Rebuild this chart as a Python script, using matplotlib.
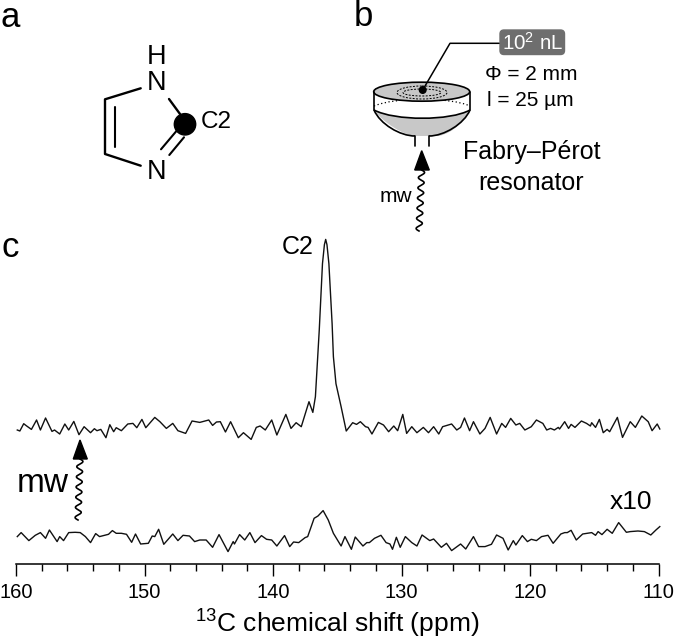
import numpy as np
import matplotlib
matplotlib.use("Agg")
import matplotlib.pyplot as plt
from matplotlib.patches import Circle, Ellipse, FancyBboxPatch, Polygon, PathPatch
from matplotlib.path import Path

plt.rcParams['font.family'] = ['Liberation Sans', 'DejaVu Sans']
plt.rcParams['mathtext.fontset'] = 'custom'
plt.rcParams['mathtext.rm'] = 'Liberation Sans'
plt.rcParams['mathtext.default'] = 'regular'

# upper trace (microwave on)
top_ppm = [159.9, 159.7, 159.4, 159.2, 158.8, 158.4, 158.1, 157.7, 157.2, 157.0, 156.6, 156.2, 155.9, 155.5, 155.1,
           154.7, 154.2, 153.9, 153.7, 153.4, 153.0, 152.7, 152.4, 152.2, 151.8, 151.3, 150.9, 150.6, 150.2, 149.9,
           149.2, 148.8, 148.3, 147.8, 147.4, 146.8, 146.3, 145.7, 145.0, 144.7, 144.4, 144.1, 143.7, 143.3, 142.7,
           142.3, 141.7, 141.3, 141.0, 140.6, 140.1, 139.7, 139.0, 138.6, 138.2, 137.8, 137.2, 136.9, 136.7, 136.4,
           136.15, 136.0, 135.9, 135.8, 135.65, 135.4, 135.3, 135.1, 134.7, 134.3, 133.8, 133.5, 133.2, 132.8, 132.6,
           132.3, 131.8,
           131.4, 131.0, 130.6, 130.3, 129.9, 129.6, 129.2, 128.8, 128.3, 127.9, 127.5, 127.1, 126.8, 126.1, 125.7,
           125.4, 125.1, 124.7, 124.4, 123.9, 123.5, 123.1, 122.6, 122.2, 121.9, 121.5, 121.1, 120.8, 120.4, 119.9,
           119.5, 119.0, 118.7, 118.4, 118.1, 117.8, 117.7, 117.3, 117.0, 116.8, 116.5, 116.0, 115.6, 115.3, 115.2,
           114.9, 114.6, 114.3, 114.0, 113.8, 113.2, 112.8, 112.2, 111.8, 111.3, 110.8, 110.5, 110.1, 109.9]
top_int = [-3.3, -4.3, 3, 1, -2.7, 6.7, -3.3, 8.7, -4.7, -3.3, -7.3, 2.7, -3.3, 5.3, -8,
           0, -6, -2, -4, -2.7, -11, 2, -5, -1, -4, 2.7, 3.3, -1, 7.3, -1,
           9.3, 5, -1.7, 3.3, -4, -6.7, 5.7, 4.3, 6.7, 1.3, 4.7, 5, -5.3, 5, -11,
           -6, -12.7, -0.7, 0.7, -3.3, 6.7, -8.3, 12.3, -1.7, 4, 0, 25, 14.3, 30, 96.7,
           163, 182, 187.3, 182, 163, 103, 70, 43, 20, -4.3, 4, 2.3, 5, 0, -0.7,
           -7.3, 4.3,
           1.7, -5, 0.7, -4, 12.3, -6.7, 0, -6, -0.7, -6, 0, -7.3, 0, 2.7, -3.3,
           -0.7, 8.7, -4, 5, -7.3, -1.7, 9.3, -7.3, 3.3, -0.7, 8.3, 1.7, 3.3, -3.3, 0,
           6.7, 3.3, -3.3, -1.7, -3.3, -0.7, -2.3, 5, -1.7, 2.3, -0.7, 5.7, 3.3, 0.7, 4,
           -0.7, 7.3, -6, -2.7, -5, 9.3, -10.7, 5, -0.7, 10.7, 5, -4, 2.7, -2.3]

# lower trace (microwave off, x10)
low_ppm = [159.9, 159.6, 159.0, 158.5, 158.1, 157.7, 157.4, 156.8, 156.6, 156.3, 155.9, 155.4, 155.0, 154.6, 154.2,
           153.8, 153.5, 152.8, 152.5, 152.2, 151.8, 151.4, 151.0, 150.7, 150.3, 149.7, 149.4, 149.2, 148.9, 148.5,
           147.8, 147.4, 147.0, 146.5, 146.1, 145.7, 145.2, 144.7, 144.2, 143.5, 143.1, 143.0, 142.6, 142.2, 141.8,
           141.4, 140.9, 140.5, 140.1, 139.7, 139.1, 138.7, 138.4, 138.0, 137.5, 137.3, 136.8, 136.5, 136.1, 135.7,
           135.3, 134.7, 134.4, 133.9, 133.6, 133.0, 132.7, 132.5, 132.1, 131.6, 131.2, 130.9, 130.7, 130.4, 130.1,
           129.7, 129.2, 128.8, 128.4, 127.8, 127.5, 126.9, 126.5, 126.1, 125.4, 125.0, 124.4, 124.0, 123.5, 123.0,
           122.6, 122.1, 121.7, 121.3, 121.1, 120.6, 120.2, 119.9, 119.5, 119.1, 118.6, 118.2, 117.6, 117.3, 117.1,
           116.8, 116.4, 115.9, 115.2, 114.9, 114.7, 114.4, 114.0, 113.6, 113.1, 112.5, 112.2, 111.6, 111.1, 110.6,
           110.2, 109.9]
low_int = [1.7, 5.7, -2.3, 3, 5.7, 0, 8.3, -3.3, 1.7, -2.3, 5.7, 6, 5.7, 1.7, -4.3,
           4.7, 1.7, 4, 7.7, 5, 5, 4, -4, 4.3, -5.7, -5, 2.3, 1.7, 9, -6,
           4.3, -2.3, 3, 2.3, -3.3, -1.7, -1.7, -9, 3.7, -13.3, -3.3, -5.7, 3.7, -1.7, 5.7,
           -4.3, 2.7, -1, -1.7, -7.7, 2.7, -8.3, -3.7, -4.3, 0.7, 1.7, 20, 22.3, 27.7, 18.3,
           5, -7.7, 1.7, -11, 1.3, -7.7, -4.3, -4.3, 0, 3, -4.3, -5.7, -11, 1, -9,
           1.7, -4.3, -7.7, 3.3, -2.3, -0.7, -9, -5, -12.3, -5.7, -10.7, 1.7, -8.3, -8.3, -6,
           3.3, 0, -11.7, -2.3, -6.7, 2.7, -3.3, -1, -2.3, 1.7, 3, -5, 4.3, 5.7, 5.7,
           8, -1.7, 4.3, 5.7, 3, 6.7, 3.7, 9, 5, 15.7, 6, 6.7, 7.3, 6.7, 3.3,
           8.3, 11.7]

major_ticks = [160, 150, 140, 130, 120, 110]
minor_ticks = [158, 156, 154, 152, 148, 146, 144, 142, 138, 136, 134, 132, 128, 126, 124, 122, 118, 116, 114, 112]

top_offset = 137.3
low_offset = 25.7

fig = plt.figure(figsize=(6.75, 6.39), dpi=100)

# spectra
ax = fig.add_axes([16 / 675, 75 / 639, 642.5 / 675, 564 / 639])
ax.patch.set_alpha(0)
ax.plot(top_ppm, np.array(top_int) + top_offset, color='#111111', lw=1.0, clip_on=False, solid_joinstyle='round')
ax.plot(low_ppm, np.array(low_int) + low_offset, color='#111111', lw=1.0, clip_on=False, solid_joinstyle='round')
ax.set_xlim(160, 110)
ax.set_ylim(0, 564)
ax.set_yticks([])
for s in ['top', 'left', 'right']:
    ax.spines[s].set_visible(False)
ax.spines['bottom'].set_linewidth(1.1)
ax.set_xticks(major_ticks)
ax.set_xticks(minor_ticks, minor=True)
ax.tick_params(axis='x', which='major', length=8.6, width=1.0, labelsize=14.5, pad=5)
ax.tick_params(axis='x', which='minor', length=5, width=1.0)
ax.set_xlabel('$^{13}$C chemical shift (ppm)', fontsize=19, labelpad=4)

# drawing layer, in pixels of the figure
dr = fig.add_axes([0, 0, 1, 1])
dr.set_xlim(0, 675)
dr.set_ylim(639, 0)
dr.axis('off')


def line(xs, ys, lw=1.3, **kw):
    dr.plot(xs, ys, color='black', lw=lw, solid_capstyle='round', **kw)


def squiggle(x0, y0, x1, y1, waves=6, amp=3.0):
    t = np.linspace(0, 1, 200)
    xs = x0 + (x1 - x0) * t + amp * np.sin(2 * np.pi * waves * t)
    ys = y0 + (y1 - y0) * t
    dr.plot(xs, ys, color='black', lw=1.2)


# panel letters
dr.text(10, 27, 'a', fontsize=25, ha='center', va='baseline')
dr.text(363, 26.5, 'b', fontsize=25, ha='center', va='baseline')
dr.text(10, 257, 'c', fontsize=25, ha='center', va='baseline')

# imidazole
line([140.7, 105, 105, 140.7], [88.3, 99.3, 154, 165.7], lw=1.7)
line([115, 115], [107.3, 146.7], lw=1.5)
line([169, 180], [99, 114], lw=1.7)
line([161, 176.7], [149.3, 130.7], lw=1.5)
line([169.3, 184], [155, 137.3], lw=1.5)
dr.add_patch(Circle((185, 124.3), 10.7, color='black', zorder=3))
dr.text(157, 57, 'H', fontsize=19.5, ha='center', va='center')
dr.text(157, 83, 'N', fontsize=19.5, ha='center', va='center')
dr.text(157, 172, 'N', fontsize=19.5, ha='center', va='center')
dr.text(216, 122, 'C2', fontsize=17.5, ha='center', va='center')

# resonator
bowl = Path([(374, 110), (382, 122), (405, 136), (415, 136), (429, 136), (429, 136), (439, 136),
             (455, 132), (462, 122), (470, 110), (450, 121), (395, 121), (374, 110)],
            [Path.MOVETO, Path.CURVE4, Path.CURVE4, Path.CURVE4, Path.LINETO, Path.LINETO, Path.LINETO,
             Path.CURVE4, Path.CURVE4, Path.CURVE4, Path.CURVE4, Path.CURVE4, Path.CURVE4])
dr.add_patch(PathPatch(bowl, facecolor='#c8c8c8', edgecolor='none'))
line([374, 374], [92, 110], lw=1.2)
line([470, 470], [92, 110], lw=1.2)
arc = Path([(374, 110), (395, 121), (450, 121), (470, 110)],
           [Path.MOVETO, Path.CURVE4, Path.CURVE4, Path.CURVE4])
dr.add_patch(PathPatch(arc, facecolor='none', edgecolor='black', lw=1.2))
back = Path([(374, 106), (395, 97), (450, 97), (470, 106)],
            [Path.MOVETO, Path.CURVE4, Path.CURVE4, Path.CURVE4])
dr.add_patch(PathPatch(back, facecolor='none', edgecolor='black', lw=0.9, ls=(0, (1, 2))))
side = Path([(374, 110), (380, 124), (400, 136), (415, 136), (429, 136), (444, 136), (464, 124), (470, 110)],
            [Path.MOVETO, Path.CURVE4, Path.CURVE4, Path.CURVE4, Path.MOVETO, Path.CURVE4, Path.CURVE4, Path.CURVE4])
dr.add_patch(PathPatch(side, facecolor='none', edgecolor='black', lw=1.2))
line([415, 415], [136, 146], lw=1.2)
line([429, 429], [136, 146], lw=1.2)
dr.add_patch(Ellipse((421.7, 91.7), 96, 19, facecolor='#c8c8c8', edgecolor='black', lw=1.2))
dr.add_patch(Ellipse((422, 92.5), 50, 13, facecolor='none', edgecolor='black', lw=0.7, ls=(0, (2, 1.5))))
dr.add_patch(Ellipse((422, 92.5), 38, 7, facecolor='none', edgecolor='black', lw=0.7, ls=(0, (2, 1.5))))
dr.add_patch(Circle((422.7, 90), 3.3, color='black', zorder=3))
line([422.7, 450, 499], [90, 43.3, 43.3], lw=1.1)
dr.add_patch(FancyBboxPatch((500, 30), 64.5, 24.5, boxstyle='round,pad=0,rounding_size=4', facecolor='#6e6e6e',
                            edgecolor='#6e6e6e', lw=1.0))
dr.text(532.5, 43, '10$^{2}$ nL', color='white', fontsize=14.8, ha='center', va='center')
dr.text(531.5, 74, '\u03a6 = 2 mm', fontsize=15, ha='center', va='center')
dr.text(530.5, 100, 'l = 25 \u00b5m', fontsize=15, ha='center', va='center')
dr.text(531.5, 152, 'Fabry\u2013P\u00e9rot', fontsize=18, ha='center', va='center')
dr.text(531.5, 183, 'resonator', fontsize=18, ha='center', va='center')
dr.text(396, 196, 'mw', fontsize=15, ha='center', va='center')
dr.add_patch(Polygon([(421.7, 150.7), (414.7, 170), (429.3, 170)], color='black'))
squiggle(421.7, 170, 419, 231)

# annotations of panel c
dr.text(298, 247, 'C2', fontsize=18, ha='center', va='center')
dr.text(43, 483, 'mw', fontsize=24, ha='center', va='center')
dr.text(631, 502, 'x10', fontsize=19, ha='center', va='center')
dr.add_patch(Polygon([(80, 440), (73.3, 459), (87.3, 459)], color='black'))
squiggle(80, 459, 78, 520)

fig.savefig('out.png', dpi=100)
